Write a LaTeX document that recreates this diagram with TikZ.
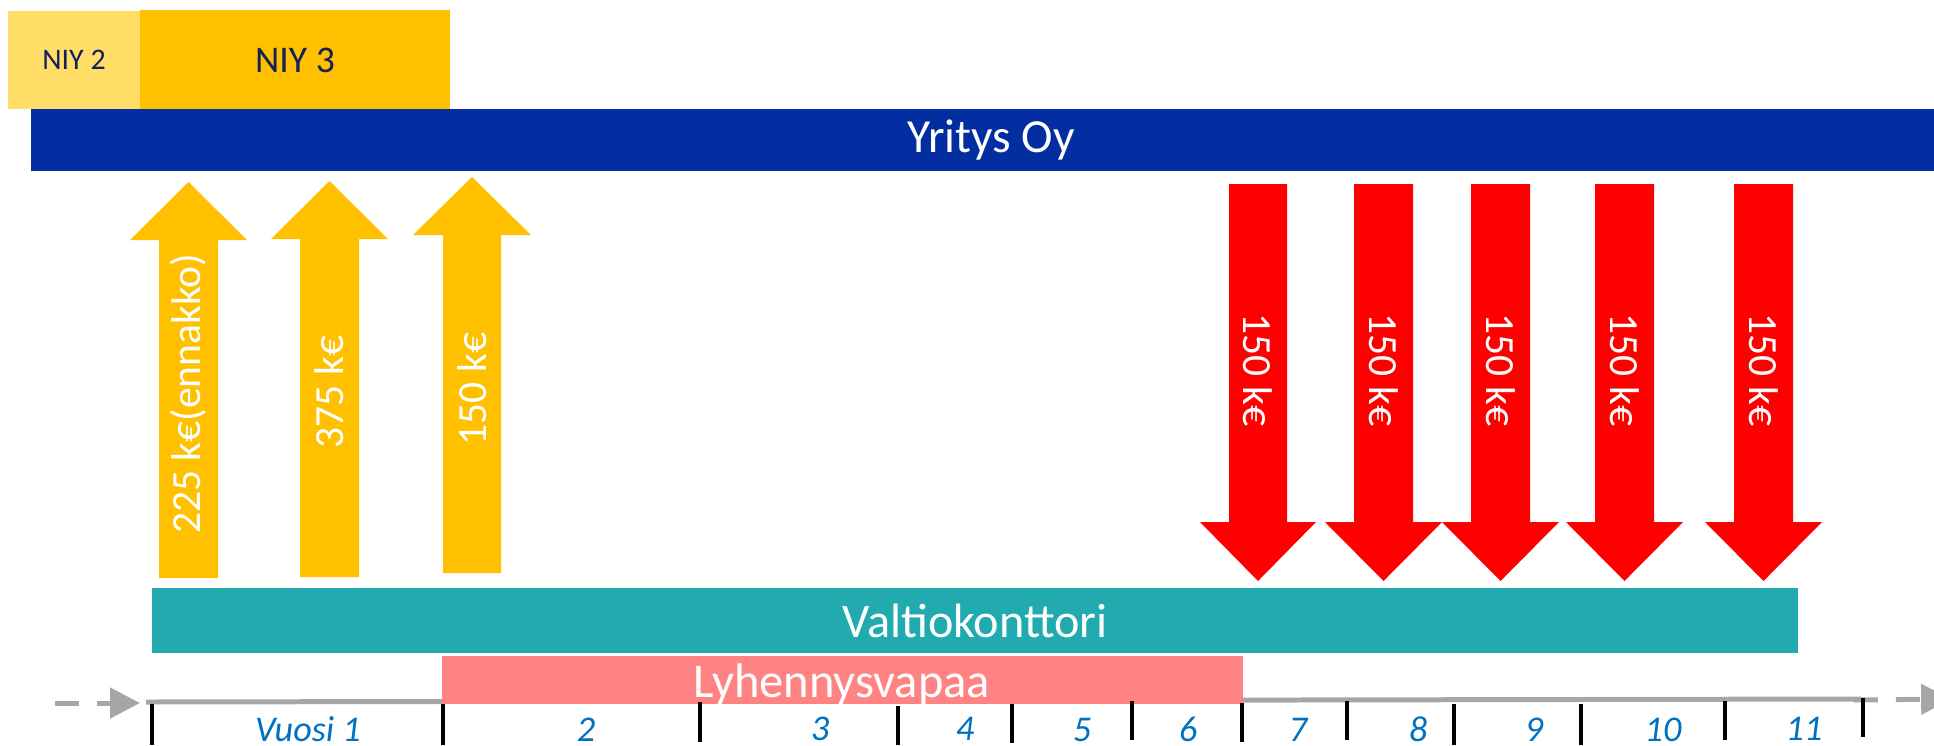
\documentclass[tikz,border=0pt]{standalone}
\usepackage{fontspec}
\setmainfont{Carlito}
\usetikzlibrary{arrows.meta}

\definecolor{niylight}{HTML}{FFDD66}
\definecolor{niygold}{HTML}{FFC000}
\definecolor{niytext}{HTML}{14215A}
\definecolor{yritysblue}{HTML}{022EA2}
\definecolor{valtioteal}{HTML}{21ABAF}
\definecolor{freepink}{HTML}{FF8383}
\definecolor{payred}{HTML}{FF0000}
\definecolor{axisgray}{HTML}{A6A6A6}
\definecolor{yearblue}{HTML}{0070C0}

\tikzset{
  bartext/.style={text=white, inner sep=0pt},
  sumtext/.style={text=white, inner sep=0pt, font=\fontsize{11.8}{14}\selectfont},
  yeartext/.style={text=yearblue, inner sep=0pt, anchor=base, font=\fontsize{10.3}{12}\selectfont\itshape},
  yeartick/.style={line width=1pt},
  axisline/.style={axisgray, line width=1.42pt},
  axisend/.style={axisgray, line width=1.42pt, dash pattern=on 6.8pt off 5.1pt,
    -{Triangle[length=8.5pt,width=8.5pt]}}
}

\begin{document}
\begin{tikzpicture}[x=0.01cm,y=-0.01cm]
\useasboundingbox (0,0) rectangle (1934,745);

% top bars
\fill[niylight] (8,11) rectangle (140,109);
\fill[niygold] (140,10) rectangle (450,109);
\node[inner sep=0pt, text=niytext, font=\fontsize{8.5}{10}\selectfont] (niy2) at (74,60) {NIY 2};
\node[inner sep=0pt, text=niytext, font=\fontsize{10.7}{12}\selectfont] (niy3) at (295,60) {NIY 3};

\fill[yritysblue] (31,109) rectangle (1934,171);
\node[bartext, font=\fontsize{13.5}{16}\selectfont] (yritys) at (991,140) {Yritys Oy};

% payments in
\fill[niygold] (159,578) -- (159,240) -- (130,240) -- (188.5,182) -- (247,240) -- (218,240) -- (218,578) -- cycle;
\fill[niygold] (300,577) -- (300,239) -- (271,239) -- (329.5,181) -- (388,239) -- (359,239) -- (359,577) -- cycle;
\fill[niygold] (443,573) -- (443,235) -- (413,235) -- (472,177) -- (531,235) -- (501,235) -- (501,573) -- cycle;

\node[sumtext, rotate=90] (in1) at (188.5,394) {225 k€(ennakko)};
\node[sumtext, rotate=90] (in2) at (329.5,392) {375 k€};
\node[sumtext, rotate=90] (in3) at (472,389) {150 k€};

% payments back
\fill[payred] (1229,184) -- (1229,522) -- (1200,522) -- (1258,581) -- (1316,522) -- (1287,522) -- (1287,184) -- cycle;
\fill[payred] (1354,184) -- (1354,522) -- (1325,522) -- (1383.5,581) -- (1442,522) -- (1413,522) -- (1413,184) -- cycle;
\fill[payred] (1471,184) -- (1471,522) -- (1442,522) -- (1500.5,581) -- (1559,522) -- (1530,522) -- (1530,184) -- cycle;
\fill[payred] (1595,184) -- (1595,522) -- (1566,522) -- (1624.5,581) -- (1683,522) -- (1654,522) -- (1654,184) -- cycle;
\fill[payred] (1734,184) -- (1734,522) -- (1705,522) -- (1763.5,581) -- (1822,522) -- (1793,522) -- (1793,184) -- cycle;

\node[sumtext, rotate=-90] (out1) at (1258,370) {150 k€};
\node[sumtext, rotate=-90] (out2) at (1383.5,370) {150 k€};
\node[sumtext, rotate=-90] (out3) at (1500.5,370) {150 k€};
\node[sumtext, rotate=-90] (out4) at (1624.5,370) {150 k€};
\node[sumtext, rotate=-90] (out5) at (1763.5,370) {150 k€};

\fill[valtioteal] (152,588) rectangle (1798,653);
\node[bartext, font=\fontsize{13.7}{16}\selectfont] (valtio) at (975,621) {Valtiokonttori};

% time axis
\coordinate (axl) at (146,702);
\coordinate (axr) at (1861,699);
\draw[axisline] (axl) -- (axr);
\coordinate (ldash) at (55,703);
\coordinate (ltip) at (140,703);
\draw[axisend] (ldash) -- (ltip);
\coordinate (rdash) at (1854,700);
\coordinate (rtip) at (1951,699);
\draw[axisend] (rdash) -- (rtip);

\fill[freepink] (442,656) rectangle (1243,704);
\node[bartext, anchor=base, font=\fontsize{13.8}{16}\selectfont] (lyhenn) at (842,697) {Lyhennysvapaa};

\draw[yeartick] (152,704) -- (152,745);
\draw[yeartick] (443,704) -- (443,745);
\draw[yeartick] (700,702) -- (700,742);
\draw[yeartick] (898,706) -- (898,745);
\draw[yeartick] (1012,704) -- (1012,743);
\draw[yeartick] (1132,701) -- (1132,740);
\draw[yeartick] (1242,703) -- (1242,742);
\draw[yeartick] (1347,701) -- (1347,740);
\draw[yeartick] (1454,704) -- (1454,745);
\draw[yeartick] (1581,704) -- (1581,745);
\draw[yeartick] (1725,701) -- (1725,740);
\draw[yeartick] (1863,698) -- (1863,737);

\node[yeartext] (y1) at (308,741) {Vuosi 1};
\node[yeartext] (y2) at (586,741) {2};
\node[yeartext] (y3) at (820,740) {3};
\node[yeartext] (y4) at (965,740) {4};
\node[yeartext] (y5) at (1082,741) {5};
\node[yeartext] (y6) at (1188,741) {6};
\node[yeartext] (y7) at (1298,741) {7};
\node[yeartext] (y8) at (1418,741) {8};
\node[yeartext] (y9) at (1534,741) {9};
\node[yeartext] (y10) at (1663,741) {10};
\node[yeartext] (y11) at (1804,740) {11};
\end{tikzpicture}
\end{document}
